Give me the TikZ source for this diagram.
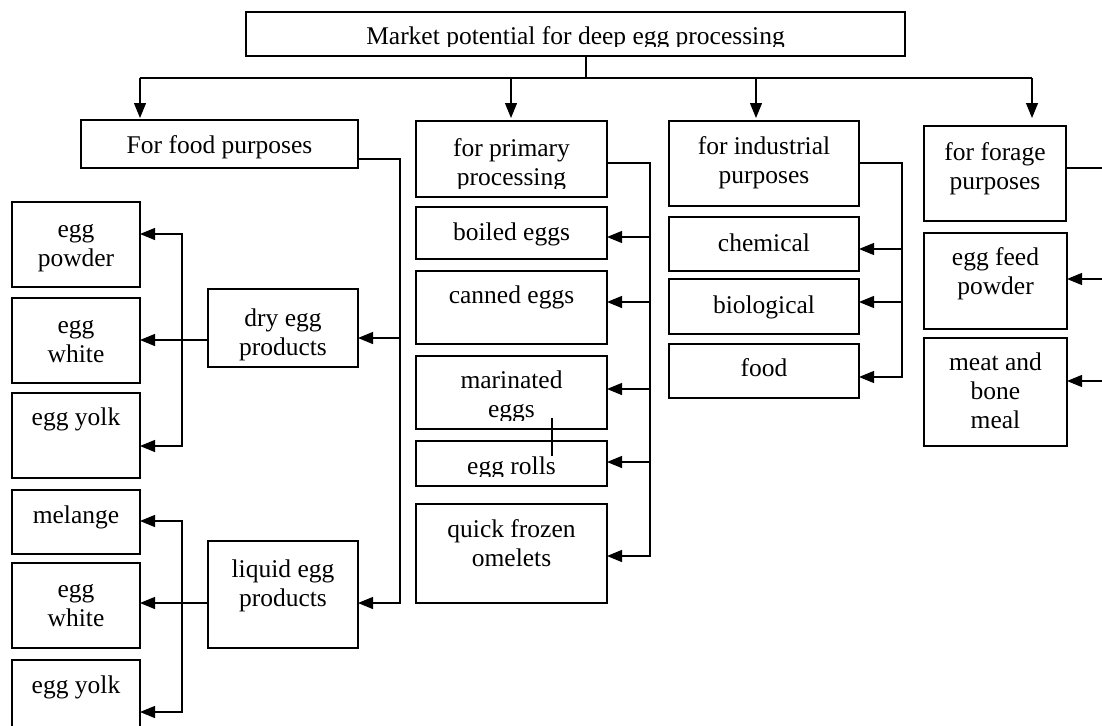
\documentclass[tikz,border=0pt]{standalone}
\usepackage{fontspec}
\setmainfont{Liberation Serif}
\usetikzlibrary{arrows.meta}

% centred multi-line label whose baseline is that of its first line
\newcommand\mltext[1]{\begin{tabular}[t]{@{}c@{}}#1\end{tabular}}
% \pbox{name}{x1}{y1}{x2}{y2}{first baseline}{text clip y}{text}
\newcommand\pbox[8]{%
  \node[box, minimum width={#4-#2}, minimum height={#5-#3}] (#1) at ({(#2+#4)/2},{(#3+#5)/2}) {};
  \begin{scope}
    \clip (#2,#3) rectangle (#4,#7);
    \node[txt] (#1-t) at ({(#2+#4)/2},#6) {\mltext{#8}};
  \end{scope}}

\tikzset{
  box/.style={draw=black, line width=1.2pt, rectangle, inner sep=0pt, outer sep=0pt},
  txt/.style={anchor=base, inner sep=0pt, font=\fontsize{25.5}{29}\selectfont},
  line/.style={draw=black, line width=1.2pt},
  arr/.style={line, -{Triangle[length=15pt,width=12pt]}},
  arrs/.style={line, {Triangle[length=15pt,width=12pt]}-{Triangle[length=15pt,width=12pt]}}
}

\begin{document}
\begin{tikzpicture}[x=1pt, y=-1pt]
\useasboundingbox (0,0) rectangle (1102,725);
\clip (0,0) rectangle (1102,725);
\fill[white] (0,0) rectangle (1102,725);

% ---- top level ----
\pbox{title}{246}{12}{905}{56}{45}{46.5}{Market potential for deep egg processing}
\pbox{food}{81}{120}{358}{168}{153}{168}{For food purposes}
\pbox{prim}{416}{121}{607}{197}{156}{188.5}{for primary\\processing}
\pbox{ind}{669}{121}{859}{206}{154}{206}{for industrial\\purposes}
\pbox{forage}{924}{126}{1066}{221}{160}{221}{for forage\\purposes}

% ---- food purposes: dry and liquid products ----
\pbox{dpow}{12}{202}{140}{287}{237}{287}{egg\\powder}
\pbox{dwhite}{12}{298}{140}{383}{333}{383}{egg\\white}
\pbox{dyolk}{12}{393}{140}{478}{425}{478}{egg yolk}
\pbox{dry}{208}{289}{358}{367}{326}{367}{dry egg\\products}
\pbox{mel}{12}{490}{140}{554}{523}{554}{melange}
\pbox{lwhite}{12}{563}{140}{648}{597}{648}{egg\\white}
\pbox{lyolk}{12}{660}{140}{750}{693}{750}{egg yolk}
\pbox{liq}{208}{541}{358}{648}{577}{648}{liquid egg\\products}

% ---- primary processing ----
\pbox{boil}{416}{207}{607}{259}{240}{259}{boiled eggs}
\pbox{can}{416}{271}{607}{344}{303}{344}{canned eggs}
\pbox{mar}{416}{356}{607}{429}{388}{420.5}{marinated\\eggs}
\pbox{roll}{416}{441}{607}{486}{474}{476.5}{egg rolls}
\pbox{qfo}{416}{504}{607}{603}{537}{603}{quick frozen\\omelets}

% ---- industrial purposes ----
\pbox{chem}{669}{217}{859}{271}{251}{271}{chemical}
\pbox{bio}{669}{279}{859}{334}{313}{334}{biological}
\pbox{ifood}{669}{344}{859}{398}{376}{398}{food}

% ---- forage purposes ----
\pbox{feed}{924}{233}{1067}{329}{265}{329}{egg feed\\powder}
\pbox{meat}{924}{338}{1067}{446}{370}{446}{meat and\\bone\\meal}

% ---- junction points ----
\coordinate (bus-c) at (586,78);
\coordinate (bus-l) at (140,78);
\coordinate (bus-2) at (511,78);
\coordinate (bus-3) at (756,78);
\coordinate (bus-r) at (1032,78);
\coordinate (fj1) at (400,159);
\coordinate (fj2) at (400,338);
\coordinate (fj3) at (400,603);
\coordinate (dj1) at (182,234);
\coordinate (dj2) at (182,340);
\coordinate (dj3) at (182,446);
\coordinate (lj1) at (182,521);
\coordinate (lj2) at (182,603);
\coordinate (lj3) at (182,712);
\coordinate (pj0) at (650,163);
\coordinate (pj1) at (650,237);
\coordinate (pj2) at (650,302);
\coordinate (pj3) at (650,389);
\coordinate (pj4) at (650,462);
\coordinate (pj5) at (650,556);
\coordinate (ij0) at (902,163);
\coordinate (ij1) at (902,249);
\coordinate (ij2) at (902,302);
\coordinate (ij3) at (902,377);
\coordinate (gj0) at (1114,168);
\coordinate (gj1) at (1114,279);
\coordinate (gj2) at (1114,381);
\coordinate (tick-a) at (552,418);
\coordinate (tick-b) at (552,456);

% ---- main distribution bus ----
\draw[line] (title.south -| bus-c) -- (bus-c);
\draw[line] (bus-l) -- (bus-r);
\draw[arr, shorten >=2pt] (bus-l) -- (bus-l |- food.north);
\draw[arr, shorten >=3pt] (bus-2) -- (bus-2 |- prim.north);
\draw[arr, shorten >=3pt] (bus-3) -- (bus-3 |- ind.north);
\draw[arr, shorten >=8pt] (bus-r) -- (bus-r |- forage.north);

% ---- food purposes branch ----
\draw[arr] (food.east |- fj1) -- (fj1) -- (fj3) -- (fj3 -| liq.east);
\draw[arr] (fj2) -- (fj2 -| dry.east);
\draw[arr] (dry.west |- dj2) -- (dj2 -| dwhite.east);
\draw[arrs] (dj1 -| dpow.east) -- (dj1) -- (dj3) -- (dj3 -| dyolk.east);
\draw[arr] (liq.west |- lj2) -- (lj2 -| lwhite.east);
\draw[arrs] (lj1 -| mel.east) -- (lj1) -- (lj3) -- (lj3 -| lyolk.east);

% ---- primary processing branch ----
\draw[arr] (prim.east |- pj0) -- (pj0) -- (pj5) -- (pj5 -| qfo.east);
\draw[arr] (pj1) -- (pj1 -| boil.east);
\draw[arr] (pj2) -- (pj2 -| can.east);
\draw[arr] (pj3) -- (pj3 -| mar.east);
\draw[arr] (pj4) -- (pj4 -| roll.east);
\draw[line] (tick-a) -- (tick-b);

% ---- industrial branch ----
\draw[arr] (ind.east |- ij0) -- (ij0) -- (ij3) -- (ij3 -| ifood.east);
\draw[arr] (ij1) -- (ij1 -| chem.east);
\draw[arr] (ij2) -- (ij2 -| bio.east);

% ---- forage branch ----
\draw[arr] (forage.east |- gj0) -- (gj0) -- (gj2) -- (gj2 -| meat.east);
\draw[arr] (gj1) -- (gj1 -| feed.east);
\end{tikzpicture}
\end{document}
